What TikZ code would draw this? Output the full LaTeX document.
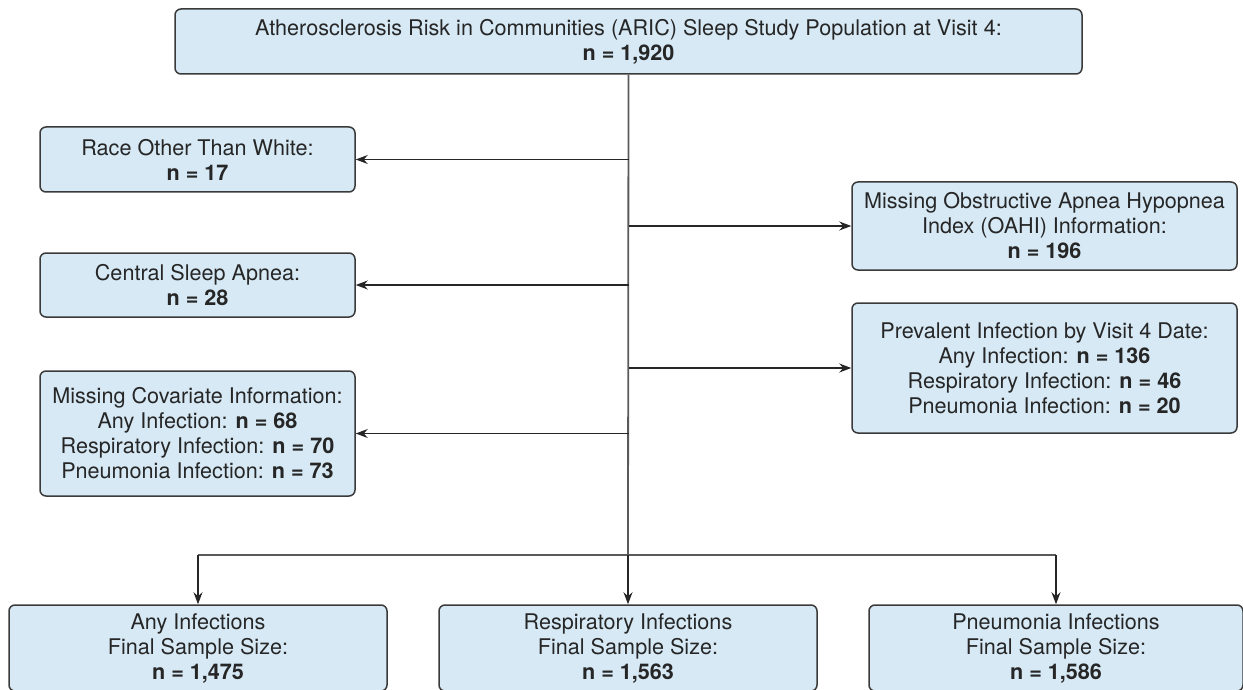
\documentclass[tikz,border=0pt]{standalone}
\usepackage{fontspec}
\setmainfont{TeX Gyre Heros}
\usetikzlibrary{arrows.meta}
\definecolor{boxfill}{HTML}{D6E9F5}
\definecolor{boxline}{HTML}{3A3A3A}
\definecolor{conline}{HTML}{5A5A5A}
\begin{document}
\begin{tikzpicture}[x=0.5pt,y=-0.5pt,
  flowbox/.style={draw=boxline, line width=0.75pt, fill=boxfill, rounded corners=3pt,
    align=center, inner sep=0pt, font=\fontsize{10.8}{12.5}\selectfont, text=black!85},
  arr/.style={draw=black!85, line width=0.6pt, -{Stealth[length=6pt,width=4.5pt]}},
  trunk/.style={draw=conline, line width=0.9pt}]
\useasboundingbox (0,0) rectangle (1243,690);
\node[flowbox, minimum width=453.5pt, minimum height=32.5pt] (top) at (628.5,41.5)
  {Atherosclerosis Risk in Communities (ARIC) Sleep Study Population at Visit 4:\\ \textbf{n = 1,920}};
\node[flowbox, minimum width=157.5pt, minimum height=32.5pt] (race) at (197.5,159.5)
  {Race Other Than White:\\ \textbf{n = 17}};
\node[flowbox, minimum width=157.5pt, minimum height=32pt] (csa) at (197.5,285)
  {Central Sleep Apnea:\\ \textbf{n = 28}};
\node[flowbox, minimum width=157.5pt, minimum height=62.5pt] (cov) at (197.5,433.5)
  {Missing Covariate Information:\\ Any Infection: \textbf{n = 68}\\ Respiratory Infection: \textbf{n = 70}\\ Pneumonia Infection: \textbf{n = 73}};
\node[flowbox, minimum width=192.5pt, minimum height=44pt] (oahi) at (1044.5,226)
  {Missing Obstructive Apnea Hypopnea\\ Index (OAHI) Information:\\ \textbf{n = 196}};
\node[flowbox, minimum width=192.5pt, minimum height=65pt] (prev) at (1044.5,368)
  {Prevalent Infection by Visit 4 Date:\\ Any Infection: \textbf{n = 136}\\ Respiratory Infection: \textbf{n = 46}\\ Pneumonia Infection: \textbf{n = 20}};
\node[flowbox, minimum width=189pt, minimum height=43pt] (anyf) at (198,648)
  {Any Infections\\ Final Sample Size:\\ \textbf{n = 1,475}};
\node[flowbox, minimum width=189pt, minimum height=43pt] (resf) at (628,648)
  {Respiratory Infections\\ Final Sample Size:\\ \textbf{n = 1,563}};
\node[flowbox, minimum width=187pt, minimum height=43pt] (pnef) at (1056,648)
  {Pneumonia Infections\\ Final Sample Size:\\ \textbf{n = 1,586}};
\coordinate (split) at (628,555);
\draw[trunk] (top.south) -- (split);
\draw[trunk] (anyf.north |- split) -- (pnef.north |- split);
\draw[arr] (top.south |- race.east) -- (race.east);
\draw[arr] (top.south |- csa.east) -- (csa.east);
\draw[arr] (top.south |- cov.east) -- (cov.east);
\draw[arr] (top.south |- oahi.west) -- (oahi.west);
\draw[arr] (top.south |- prev.west) -- (prev.west);
\draw[arr] (anyf.north |- split) -- (anyf.north);
\draw[arr] (split) -- (resf.north);
\draw[arr] (pnef.north |- split) -- (pnef.north);
\end{tikzpicture}
\end{document}
